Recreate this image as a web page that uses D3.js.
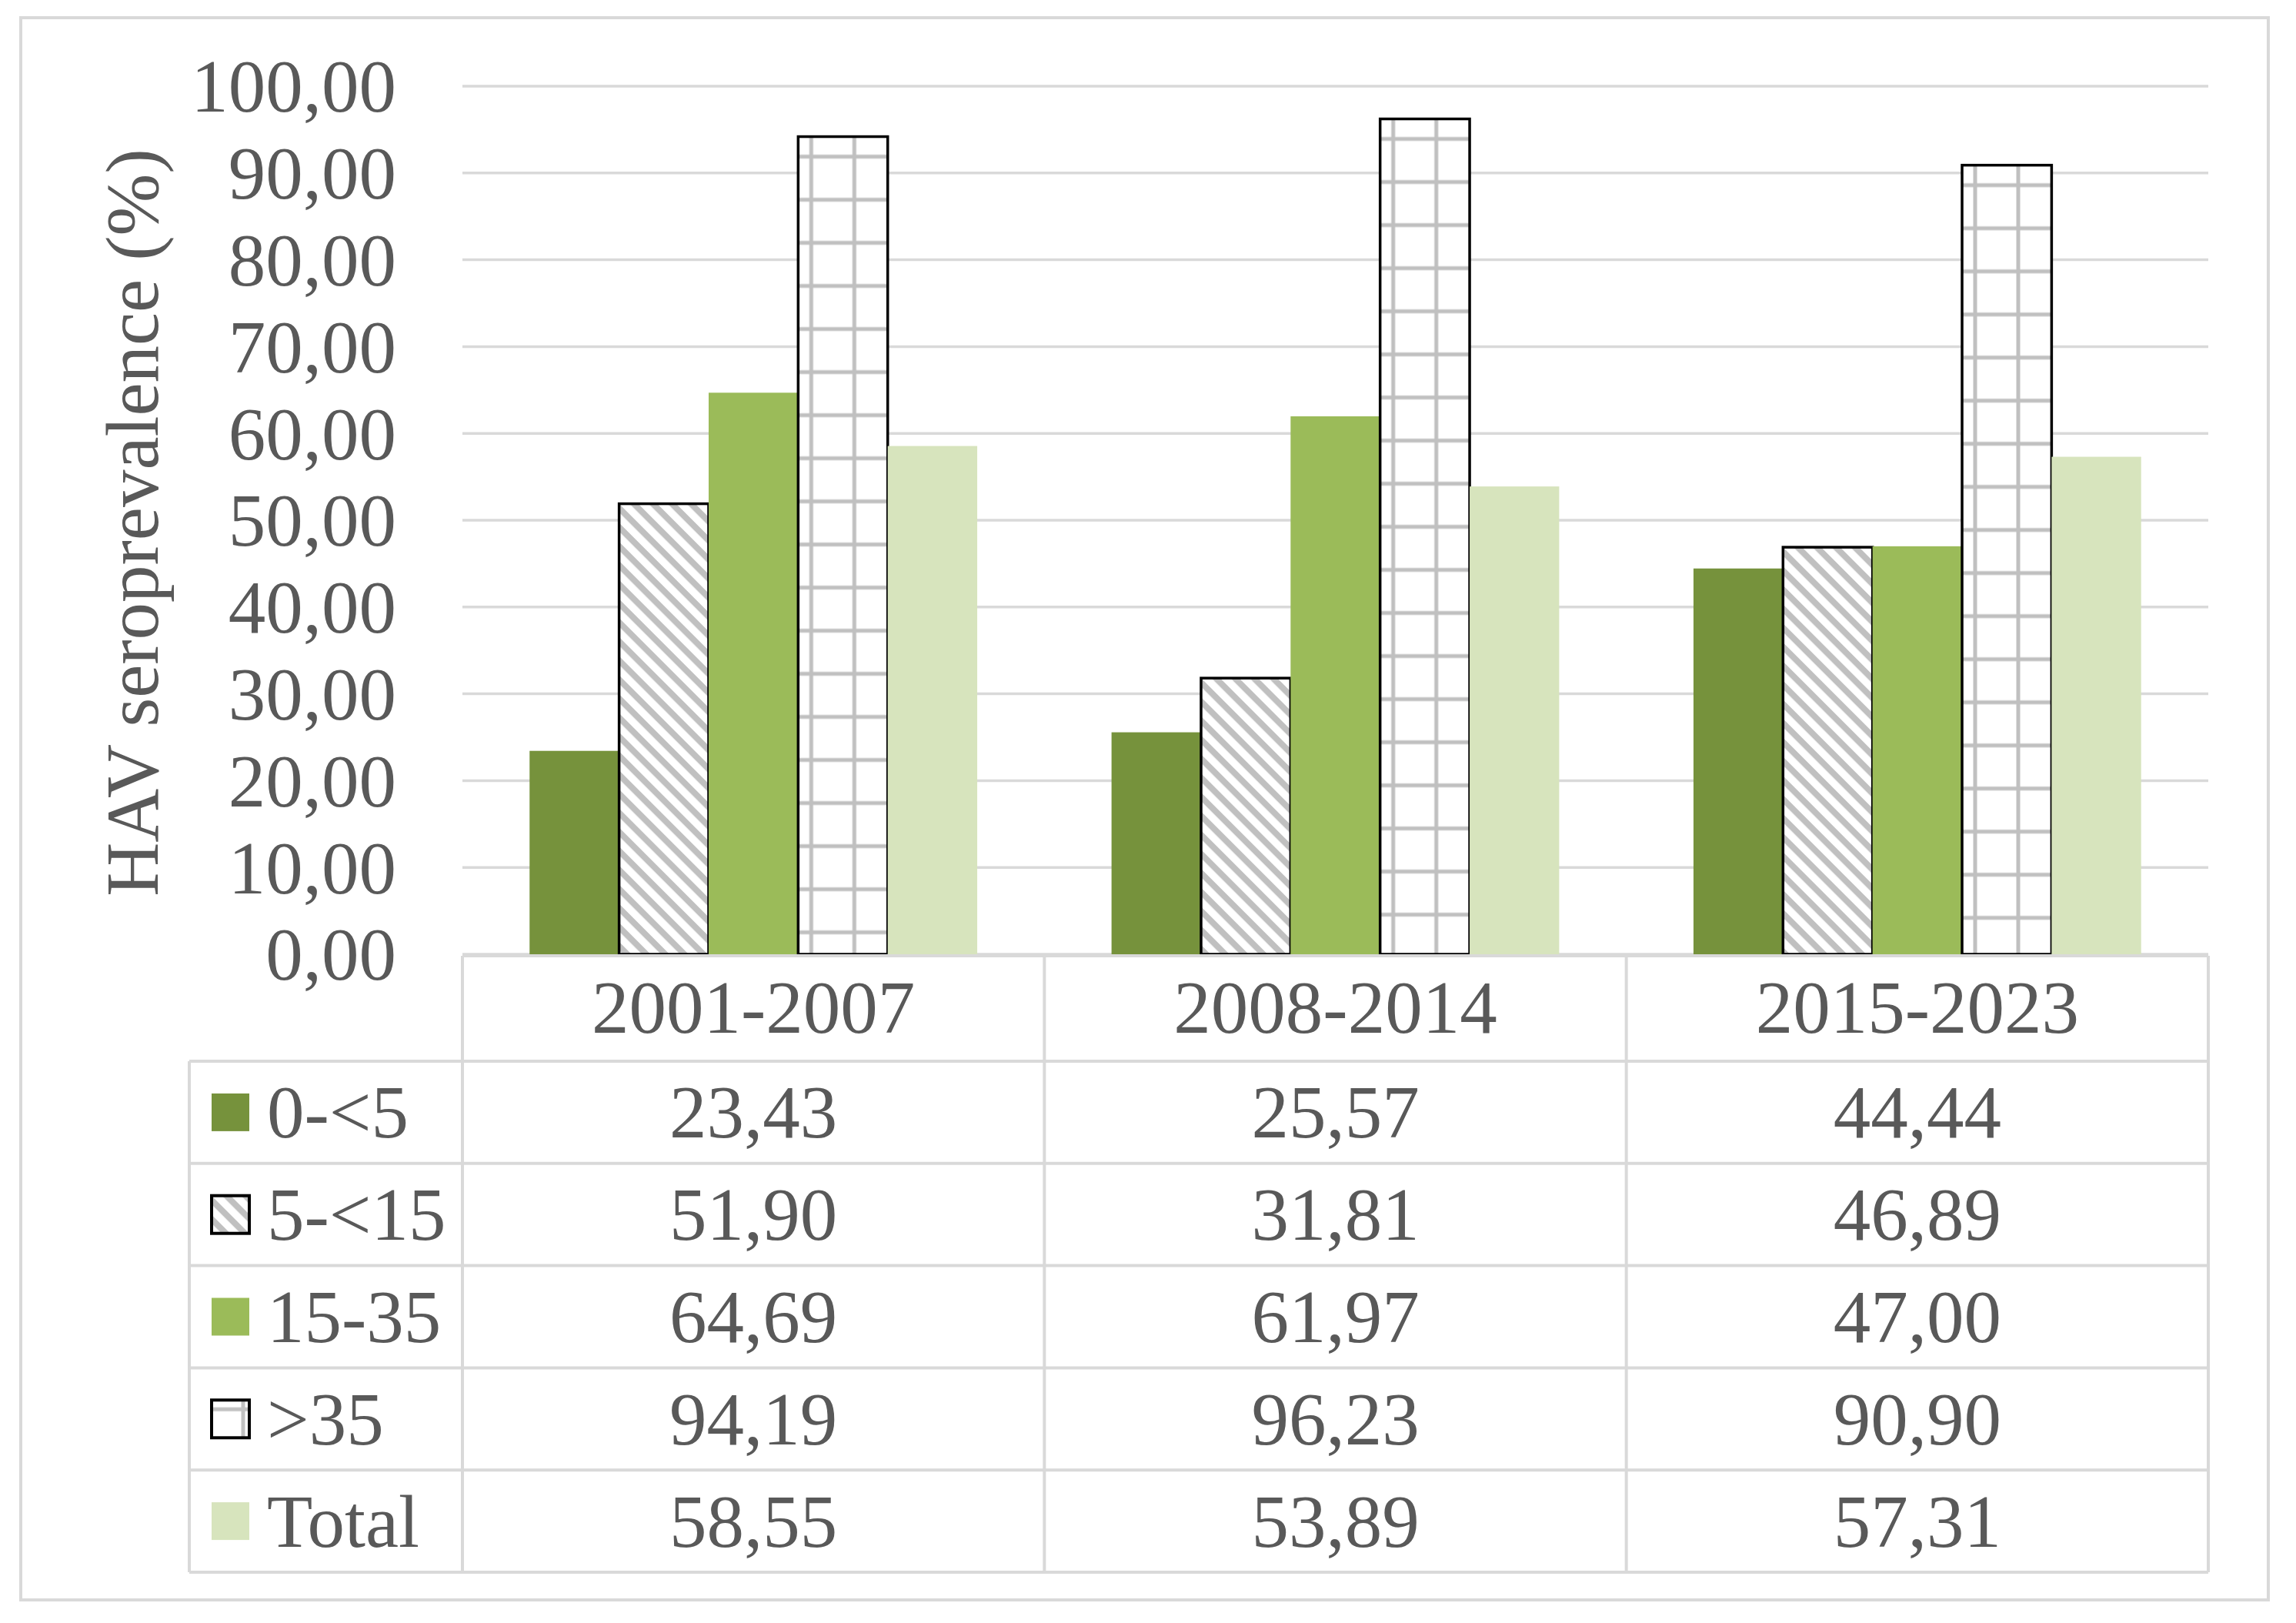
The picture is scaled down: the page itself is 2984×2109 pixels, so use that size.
<!DOCTYPE html>
<html>
<head>
<meta charset="utf-8">
<script src="https://cdn.jsdelivr.net/npm/d3@7"></script>
<style>
  body { margin: 0; background: #fff; }
  text { font-family: "Liberation Serif", "Times New Roman", serif; fill: #595959; }
</style>
</head>
<body>
<svg id="chart" width="2984" height="2109"></svg>
<script>
// data
const periods = ["2001-2007", "2008-2014", "2015-2023"];
const ageGroups = ["0-<5", "5-<15", "15-35", ">35", "Total"];
const age0to5 = [23.43, 25.57, 44.44];
const age5to15 = [51.90, 31.81, 46.89];
const age15to35 = [64.69, 61.97, 47.00];
const ageOver35 = [94.19, 96.23, 90.90];
const total = [58.55, 53.89, 57.31];
const yTicks = [0, 10, 20, 30, 40, 50, 60, 70, 80, 90, 100];

const seriesValues = [age0to5, age5to15, age15to35, ageOver35, total];

const W = 2984, H = 2109;
const plotLeft = 601, plotRight = 2870, plotTop = 112, plotBase = 1240;
const headerBottom = 1379, tableBottom = 2043, tableLeft = 246;
const fontSize = 97;

const svg = d3.select("#chart");
svg.append("rect").attr("width", W).attr("height", H).attr("fill", "#fff");
// outer frame
svg.append("rect").attr("x", 27).attr("y", 23).attr("width", 2948 - 27).attr("height", 2079 - 23)
  .attr("fill", "none").attr("stroke", "#d9d9d9").attr("stroke-width", 4);

const fmt = d3.formatLocale({decimal: ",", thousands: ".", grouping: [3], currency: ["", ""]}).format(".2f");

const x0 = d3.scaleBand().domain(periods).range([plotLeft, plotRight]);
const x1 = d3.scaleBand().domain(ageGroups).range([0, x0.bandwidth()]).paddingOuter(0.75);
const y = d3.scaleLinear().domain([0, 100]).range([plotBase, plotTop]);

const defs = svg.append("defs");
const gray = "#c0c0c0";

// pattern factory: one pattern per mark so the tiling starts at the mark
function makePattern(id, kind, ox, oy) {
  if (kind === "hatch") {
    const p = defs.append("pattern").attr("id", id).attr("patternUnits", "userSpaceOnUse")
      .attr("width", 12).attr("height", 17.5)
      .attr("patternTransform", `translate(${ox},${oy}) rotate(45)`);
    p.append("rect").attr("width", 12).attr("height", 17.5).attr("fill", "#fff");
    p.append("rect").attr("width", 12).attr("height", 8).attr("fill", gray);
  } else {
    const p = defs.append("pattern").attr("id", id).attr("patternUnits", "userSpaceOnUse")
      .attr("x", ox).attr("y", oy).attr("width", 56).attr("height", 56);
    p.append("rect").attr("width", 56).attr("height", 56).attr("fill", "#fff");
    p.append("rect").attr("x", 14.5).attr("y", 0).attr("width", 5).attr("height", 56).attr("fill", gray);
    p.append("rect").attr("x", 0).attr("y", 23.5).attr("width", 56).attr("height", 5).attr("fill", gray);
  }
  return `url(#${id})`;
}

const style = {
  "0-<5":  {fill: "#76923c", stroke: "none"},
  "5-<15": {pattern: "hatch", stroke: "#000"},
  "15-35": {fill: "#9bbb59", stroke: "none"},
  ">35":   {pattern: "grid", stroke: "#000"},
  "Total": {fill: "#d7e4bd", stroke: "none"}
};

// gridlines
svg.append("g").selectAll("line").data(yTicks).join("line")
  .attr("x1", plotLeft).attr("x2", plotRight)
  .attr("y1", d => y(d)).attr("y2", d => y(d))
  .attr("stroke", "#d9d9d9").attr("stroke-width", 3.5);

// y tick labels
const yAxis = d3.axisLeft(y).tickValues(yTicks).tickSize(0).tickPadding(0).tickFormat(fmt);
const ya = svg.append("g").attr("transform", "translate(515,0)").call(yAxis);
ya.select(".domain").remove();
ya.selectAll("text").attr("font-size", fontSize).attr("font-family", null).attr("fill", "#595959")
  .attr("dy", "0.34em");

// y title
svg.append("text").attr("transform", `translate(205,${(187 + 1171) / 2}) rotate(-90)`)
  .attr("text-anchor", "middle").attr("font-size", fontSize)
  .text("HAV seroprevalence (%)");

// bars
const bars = [];
ageGroups.forEach((g, si) => {
  periods.forEach((p, pi) => bars.push({group: g, period: p, value: seriesValues[si][pi]}));
});
const barG = svg.append("g");
bars.forEach((d, i) => {
  const s = style[d.group];
  const bx = x0(d.period) + x1(d.group);
  const by = y(d.value);
  let fill = s.fill;
  if (s.pattern === "hatch") fill = makePattern("h" + i, "hatch", bx, by);
  if (s.pattern === "grid") fill = makePattern("g" + i, "grid", bx, by);
  barG.append("rect")
    .attr("x", bx).attr("y", by)
    .attr("width", x1.bandwidth()).attr("height", y(0) - by)
    .attr("fill", fill)
    .attr("stroke", s.stroke).attr("stroke-width", s.stroke === "none" ? 0 : 3.5);
});

// data table
const rowH = (tableBottom - headerBottom) / ageGroups.length;
const rowY = i => headerBottom + i * rowH;
const lines = svg.append("g").attr("stroke", "#d9d9d9").attr("stroke-width", 4).attr("fill", "none");
lines.append("line").attr("x1", plotLeft).attr("x2", plotRight).attr("y1", plotBase + 2).attr("y2", plotBase + 2);
d3.range(ageGroups.length + 1).forEach(i => {
  lines.append("line").attr("x1", tableLeft).attr("x2", plotRight).attr("y1", rowY(i)).attr("y2", rowY(i));
});
lines.append("line").attr("x1", tableLeft).attr("x2", tableLeft).attr("y1", headerBottom).attr("y2", tableBottom);
[plotLeft, ...periods.map(p => x0(p) + x0.bandwidth())].forEach(xv => {
  lines.append("line").attr("x1", xv).attr("x2", xv).attr("y1", plotBase + 2).attr("y2", tableBottom);
});

// header
svg.append("g").selectAll("text").data(periods).join("text")
  .attr("x", d => x0(d) + x0.bandwidth() / 2)
  .attr("y", (plotBase + headerBottom) / 2).attr("dy", "0.34em")
  .attr("text-anchor", "middle").attr("font-size", fontSize)
  .text(d => d);

// rows
ageGroups.forEach((g, si) => {
  const cy = rowY(si) + rowH / 2;
  const s = style[g];
  let fill = s.fill;
  const kx = 275, ky = cy - 24.5;
  if (s.pattern === "hatch") fill = makePattern("kh" + si, "hatch", kx, ky);
  if (s.pattern === "grid") fill = makePattern("kg" + si, "grid", kx - 32, ky - 14);
  svg.append("rect").attr("x", kx).attr("y", ky).attr("width", 49).attr("height", 49)
    .attr("fill", fill).attr("stroke", s.stroke).attr("stroke-width", s.stroke === "none" ? 0 : 4);
  svg.append("text").attr("x", 347).attr("y", cy).attr("dy", "0.34em")
    .attr("font-size", fontSize).text(g);
  svg.append("g").selectAll("text").data(seriesValues[si]).join("text")
    .attr("x", (d, pi) => x0(periods[pi]) + x0.bandwidth() / 2)
    .attr("y", cy).attr("dy", "0.34em")
    .attr("text-anchor", "middle").attr("font-size", fontSize)
    .text(d => fmt(d));
});
</script>
</body>
</html>
